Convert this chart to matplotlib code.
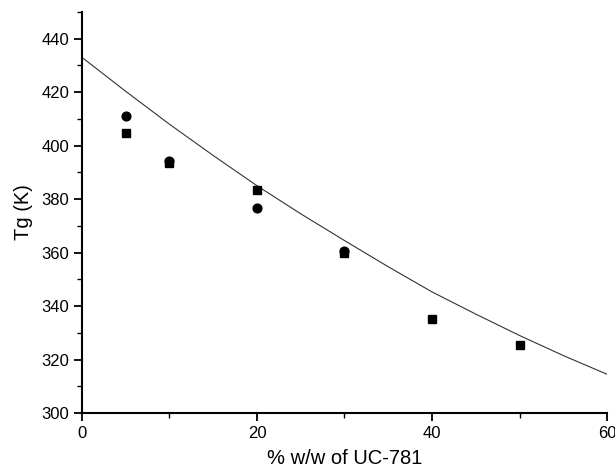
import matplotlib
matplotlib.use("Agg")
import matplotlib.pyplot as plt
from matplotlib.ticker import MultipleLocator

plt.rcParams['font.family'] = ['Liberation Sans', 'DejaVu Sans']

# Data
circle_x = [5, 10, 20, 30]
circle_y = [411.0, 394.4, 376.8, 360.5]
square_x = [5, 10, 20, 30, 40, 50]
square_y = [404.8, 393.4, 383.5, 359.9, 335.0, 325.6]
curve_x = [0, 5, 10, 15, 20, 25, 30, 35, 40, 45, 50, 55, 60]
curve_y = [433.0, 420.3, 408.0, 396.3, 385.0, 374.5, 364.5, 354.7, 345.3, 337.0, 329.0, 321.5, 314.5]

fig = plt.figure(figsize=(6.15, 4.73), dpi=100)
ax = fig.add_axes([0.1333, 0.1268, 0.8537, 0.848])

ax.plot(curve_x, curve_y, color='#333333', lw=0.8)
ax.plot(square_x, square_y, 's', color='black', ms=6, clip_on=False)
ax.plot(circle_x, circle_y, 'o', color='black', ms=6.3, clip_on=False)

ax.set_xlim(0, 60)
ax.set_ylim(300, 450)
ax.xaxis.set_major_locator(MultipleLocator(20))
ax.xaxis.set_minor_locator(MultipleLocator(10))
ax.yaxis.set_major_locator(MultipleLocator(20))
ax.yaxis.set_minor_locator(MultipleLocator(10))
ax.set_yticks([300, 320, 340, 360, 380, 400, 420, 440])

for s in ['top', 'right']:
    ax.spines[s].set_visible(False)
for s in ['left', 'bottom']:
    ax.spines[s].set_linewidth(1.5)

ax.tick_params(which='major', direction='out', length=6, width=1.3, labelsize=12, colors='black', pad=3)
ax.tick_params(which='minor', direction='out', length=3.5, width=1.0)

ax.set_xlabel('% w/w of UC-781', fontsize=14.5, labelpad=6)
ax.set_ylabel('Tg (K)', fontsize=14.5, labelpad=6)

fig.savefig('out.png', dpi=100)
